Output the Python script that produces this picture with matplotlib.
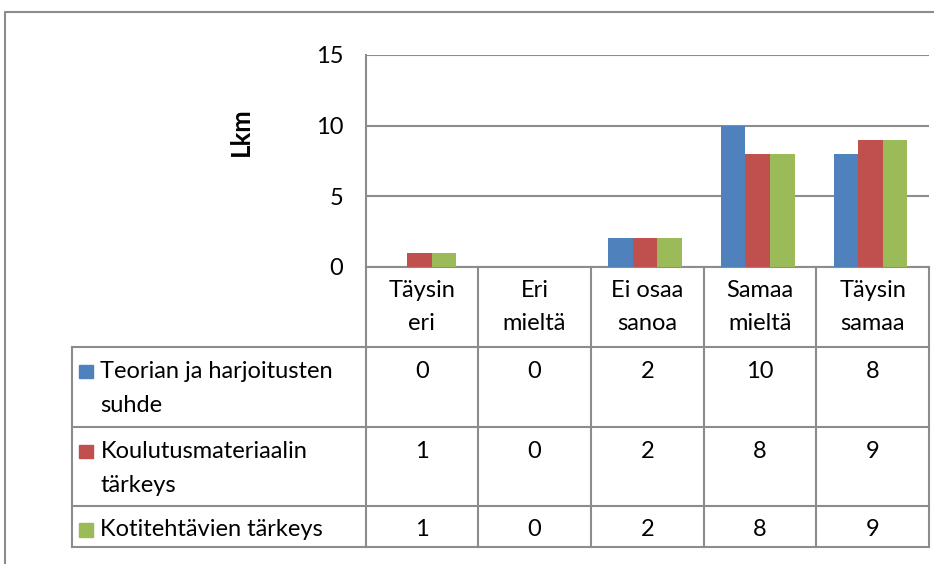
import numpy as np
import matplotlib
matplotlib.use('Agg')
import matplotlib.pyplot as plt

# Datos
categorias = ['Täysin\neri', 'Eri\nmieltä', 'Ei osaa\nsanoa', 'Samaa\nmieltä', 'Täysin\nsamaa']
series = ['Teorian ja harjoitusten\nsuhde', 'Koulutusmateriaalin\ntärkeys', 'Kotitehtävien tärkeys']
teoria = [0, 0, 2, 10, 8]
materiaali = [1, 0, 2, 8, 9]
kotitehtavat = [1, 0, 2, 8, 9]
y_ticks = [0, 5, 10, 15]
y_label = 'Lkm'

valores = [teoria, materiaali, kotitehtavat]
colores = ['#4F81BD', '#C0504D', '#9BBB59']
gris = '#8c8c8c'

plt.rcParams['font.family'] = ['Lato', 'DejaVu Sans']
fs = 17

W, H = 934, 565
fig = plt.figure(figsize=(W / 100, H / 100), dpi=100)

# capa en pixeles para el marco y la tabla
ov = fig.add_axes([0, 0, 1, 1])
ov.set_xlim(0, W)
ov.set_ylim(H, 0)
ov.axis('off')

# zona del grafico (pixeles)
x0, x1 = 365.5, 929.0
y_top, y_bot = 55.0, 266.7
ax = fig.add_axes([x0 / W, 1 - y_bot / H, (x1 - x0) / W, (y_bot - y_top) / H])
ax.patch.set_alpha(0)

n = len(categorias)
x = np.arange(n)
ancho = 0.218
for i, (vals, col) in enumerate(zip(valores, colores)):
    ax.bar(x + (i - 1) * ancho - 0.02, vals, width=ancho, color=col, zorder=3)

ax.set_xlim(-0.5, n - 0.5)
ax.set_ylim(0, 15)
ax.set_yticks(y_ticks)
ax.set_xticks([])
ax.yaxis.grid(True, color=gris, lw=1.5, zorder=1)
for s in ['top', 'right', 'bottom']:
    ax.spines[s].set_visible(False)
ax.spines['left'].set_color(gris)
ax.spines['left'].set_linewidth(1.5)
ax.tick_params(axis='y', length=0, pad=16, labelsize=fs)

ov.text(241, 132, y_label, rotation=90, ha='center', va='center',
        fontsize=18.5, fontweight='bold')

# marco exterior
ov.plot([5, 5, W], [563, 12, 12], color=gris, lw=1.5)

# tabla de datos
colw = (x1 - x0) / n
bordes = [x0 + i * colw for i in range(n + 1)]
filas = [266.7, 347, 427, 505.5, 547]
tab_izq = 72
lw = 1.5
for bx in bordes:
    ov.plot([bx, bx], [filas[0], filas[-1]], color=gris, lw=lw)
ov.plot([x0, x1], [filas[0]] * 2, color=gris, lw=lw)
for fy in filas[1:]:
    ov.plot([tab_izq, x1], [fy, fy], color=gris, lw=lw)
ov.plot([tab_izq, tab_izq], [filas[1], filas[-1]], color=gris, lw=lw)


def texto(xp, base, s, ha, paso):
    for k, linea in enumerate(s.split('\n')):
        ov.text(xp, base + k * paso, linea, ha=ha, va='baseline', fontsize=fs)


# cabeceras de categorias
for i, cat in enumerate(categorias):
    cx = (bordes[i] + bordes[i + 1]) / 2
    texto(cx, filas[0] + 30, cat, 'center', 33.3)

# filas de series
for r, (nombre, vals, col) in enumerate(zip(series, valores, colores)):
    base = filas[r + 1] + 31
    ov.add_patch(plt.Rectangle((79, base - 13.5), 14, 13.5, color=col))
    texto(100.5, base, nombre, 'left', 34)
    for i, v in enumerate(vals):
        cx = (bordes[i] + bordes[i + 1]) / 2
        texto(cx, base, str(v), 'center', 34)

fig.savefig('out.png', dpi=100)
